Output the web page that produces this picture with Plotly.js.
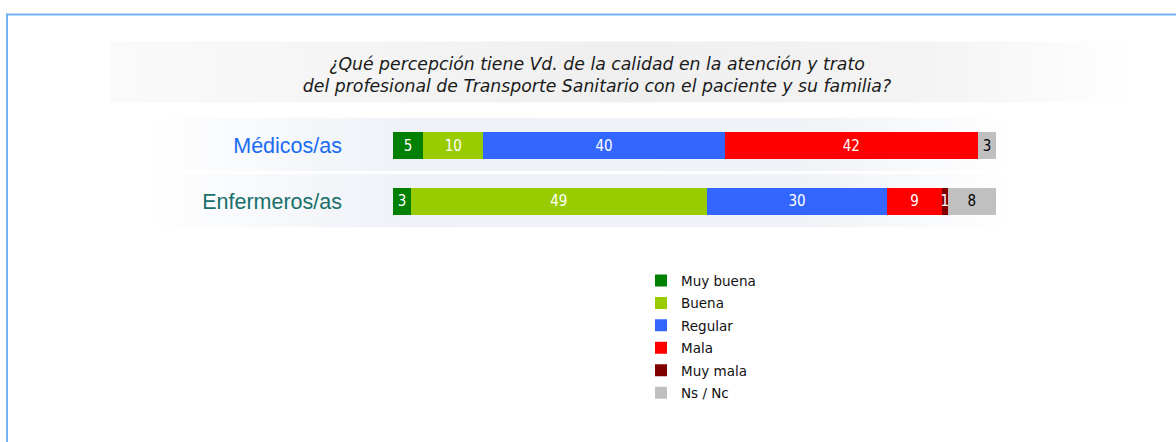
<!DOCTYPE html>
<html>
<head>
<meta charset="utf-8">
<script src="https://cdn.plot.ly/plotly-3.0.1.min.js"></script>
<style>html,body{margin:0;padding:0;background:#fff;}#chart{width:1176px;height:442px;}</style>
</head>
<body>
<div id="chart"></div>
<script>
// ---- data ----
const categories = ['Médicos/as', 'Enfermeros/as'];
const categoryColors = ['#1a6cf2', '#19706b'];
const seriesNames = ['Muy buena', 'Buena', 'Regular', 'Mala', 'Muy mala', 'Ns / Nc'];
const seriesColors = ['#008000', '#99cc00', '#3366ff', '#ff0000', '#800000', '#c0c0c0'];
const labelColors = ['#ffffff', '#ffffff', '#ffffff', '#ffffff', '#ffffff', '#000000'];
const muyBuena = [5, 3];
const buena = [10, 49];
const regular = [40, 30];
const mala = [42, 9];
const muyMala = [0, 1];
const nsNc = [3, 8];
const seriesValues = [muyBuena, buena, regular, mala, muyMala, nsNc];
const titleText = '¿Qué percepción tiene Vd. de la calidad en la atención y trato<br>del profesional de Transporte Sanitario con el paciente y su familia?';

// ---- layout geometry ----
const W = 1176, H = 442;
const M = {l: 393, r: 180, t: 117.5, b: 212.5};
const PW = W - M.l - M.r, PH = H - M.t - M.b;
const px = x => (x - M.l) / PW;
const py = y => (H - M.b - y) / PH;

function gradImg(stops, x0, y0, x1, y1) {
  const st = stops.map(s => `<stop offset="${s[0]}" stop-color="${s[1]}"/>`).join('');
  const svg = `<svg xmlns="http://www.w3.org/2000/svg" width="200" height="20" preserveAspectRatio="none"><defs><linearGradient id="g" x1="0" y1="0" x2="1" y2="0">${st}</linearGradient></defs><rect width="200" height="20" fill="url(#g)"/></svg>`;
  return {
    source: 'data:image/svg+xml;base64,' + btoa(svg),
    xref: 'paper', yref: 'paper', x: px(x0), y: py(y0),
    sizex: px(x1) - px(x0), sizey: py(y0) - py(y1),
    xanchor: 'left', yanchor: 'top', sizing: 'stretch', layer: 'below'
  };
}

const traces = seriesNames.map((name, i) => ({
  type: 'bar',
  orientation: 'h',
  name: name,
  y: categories,
  x: seriesValues[i],
  marker: {color: seriesColors[i], line: {width: 0}},
  text: seriesValues[i].map(v => v > 0 ? String(v) : ''),
  textposition: 'inside',
  insidetextanchor: 'middle',
  constraintext: 'none',
  textfont: {family: 'DejaVu Sans Condensed, DejaVu Sans', size: 15, color: labelColors[i]},
  legendgroup: 'g' + i,
  hoverinfo: 'none'
}));

const layout = {
  width: W, height: H,
  margin: M,
  autosize: false,
  barmode: 'stack',
  bargap: 0.52,
  paper_bgcolor: 'rgba(0,0,0,0)',
  plot_bgcolor: 'rgba(0,0,0,0)',
  showlegend: true,
  title: {
    text: '<i>' + titleText + '</i>',
    font: {family: 'DejaVu Sans', size: 17.3, color: '#1a1a1a'},
    xref: 'container', x: 597 / W, xanchor: 'center',
    yref: 'container', y: 1 - 70 / H, yanchor: 'top',
    automargin: false
  },
  xaxis: {range: [0, 100], visible: false, fixedrange: true},
  yaxis: {
    type: 'category', autorange: 'reversed',
    tickvals: categories,
    ticktext: categories.map((c, i) => `<span style="color:${categoryColors[i]}">${c}</span>`),
    tickfont: {family: 'Liberation Sans, Arial', size: 21.5},
    ticks: '', showline: false, showgrid: false, zeroline: false,
    ticklabelstandoff: 50, fixedrange: true, automargin: false
  },
  legend: {
    orientation: 'v', traceorder: 'grouped', tracegroupgap: 1.9,
    xref: 'paper', yref: 'paper',
    x: px(641), xanchor: 'left', y: py(266), yanchor: 'top',
    font: {family: 'DejaVu Sans', size: 13.5, color: '#111'},
    bgcolor: 'rgba(0,0,0,0)', borderwidth: 0
  },
  images: [
    gradImg([[0, '#fafafa'], [0.5, '#efefef'], [0.8, '#f4f4f4'], [1, '#ffffff']], 110, 40, 1136, 102),
    gradImg([[0, '#ffffff'], [0.3, '#eef2f7'], [0.75, '#eff2f6'], [1, '#ffffff']], 145, 117, 1012, 171),
    gradImg([[0, '#ffffff'], [0.3, '#eef2f7'], [0.75, '#eff2f6'], [1, '#ffffff']], 145, 174, 1012, 228)
  ],
  shapes: [
    {type: 'line', xref: 'paper', yref: 'paper', x0: px(7), x1: px(7), y0: py(12), y1: py(460), line: {color: '#74b4f6', width: 2}, layer: 'below'},
    {type: 'line', xref: 'paper', yref: 'paper', x0: px(6), x1: px(1190), y0: py(13), y1: py(13), line: {color: '#74b4f6', width: 2}, layer: 'below'}
  ]
};

Plotly.newPlot('chart', traces, layout, {displayModeBar: false, staticPlot: true});
</script>
</body>
</html>
